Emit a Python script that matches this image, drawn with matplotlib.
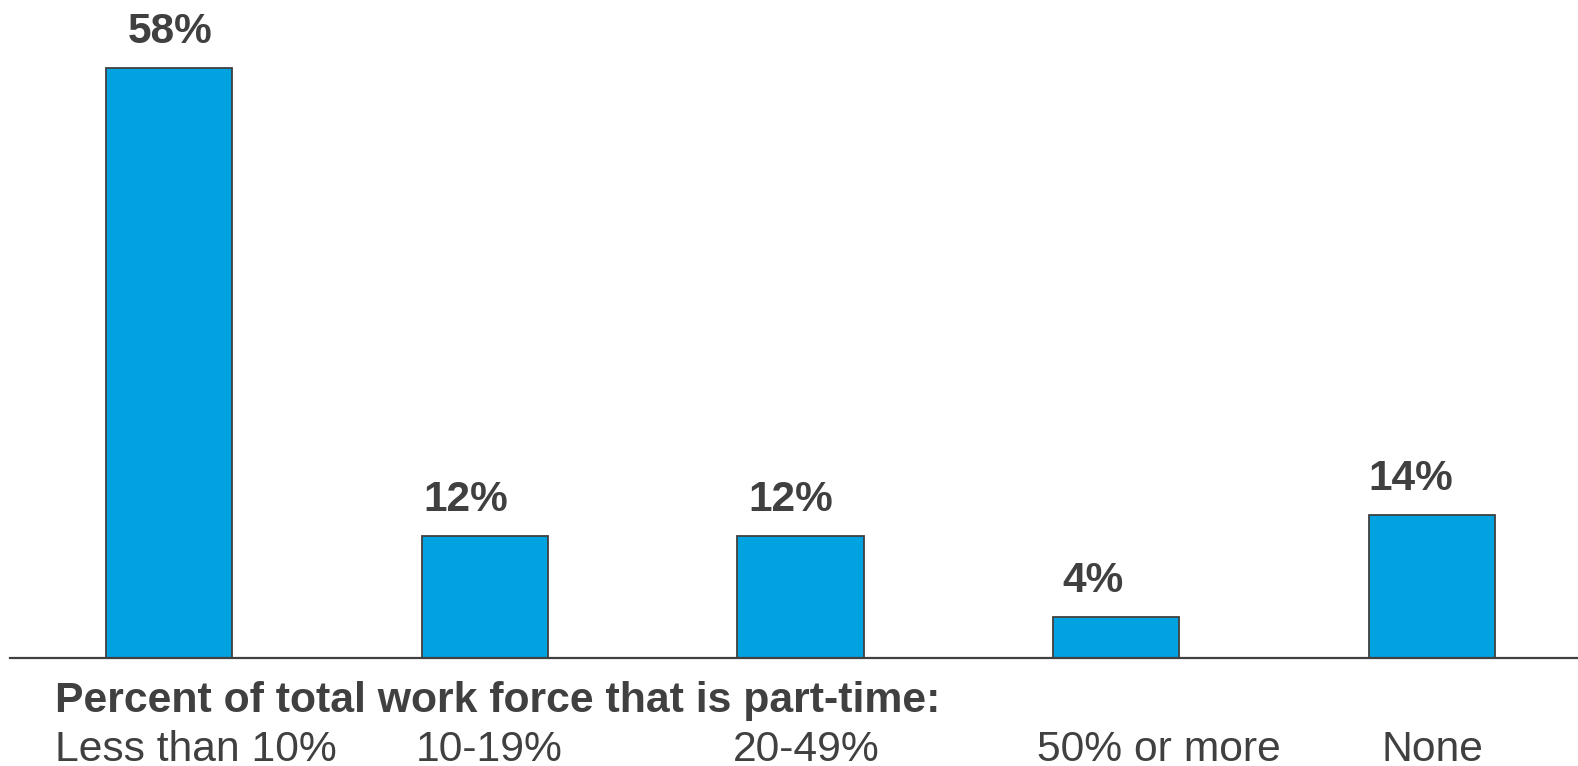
import numpy as np
import matplotlib
matplotlib.use('Agg')
import matplotlib.pyplot as plt

plt.rcParams['font.family'] = ['Liberation Sans', 'DejaVu Sans']

# data
categories = ['Less than 10%', '10-19%', '20-49%', '50% or more', 'None']
values = [58, 12, 12, 4, 14]
value_labels = ['58%', '12%', '12%', '4%', '14%']
axis_title = 'Percent of total work force that is part-time:'

# small label shifts (points) to follow the original layout
value_dx = [1, -14, -7, -17, -15]
cat_dx = [19, 3, 4, 31, 0]

text_color = '#404040'
bar_color = '#00A2E0'

W, H = 1578, 766
fig = plt.figure(figsize=(W / 100, H / 100), dpi=100)
ax = fig.add_axes([10 / W, (H - 658) / H, (W - 10) / W, (658 - 6.5) / H])

x = np.arange(len(categories))
ax.bar(x, values, width=0.40, color=bar_color, edgecolor=text_color, linewidth=1.3)

ax.set_xlim(-0.5036, 4.4625)
ax.set_ylim(0, 64)

for s in ['top', 'right', 'left']:
    ax.spines[s].set_visible(False)
ax.spines['bottom'].set_color(text_color)
ax.spines['bottom'].set_linewidth(1.6)
ax.set_xticks([])
ax.set_yticks([])

# value labels above bars
for i, (v, lab) in enumerate(zip(values, value_labels)):
    ax.annotate(lab, xy=(i, v), xytext=(value_dx[i], 18), textcoords='offset points',
                ha='center', va='baseline', fontsize=30.5, fontweight='bold',
                color=text_color, annotation_clip=False)

# category labels below axis
for i, c in enumerate(categories):
    ax.annotate(c, xy=(i, 0), xytext=(cat_dx[i], -74), textcoords='offset points',
                ha='center', va='baseline', fontsize=30.7, color=text_color,
                annotation_clip=False)

fig.text(55.4 / W, 1 - 712 / H, axis_title, ha='left', va='baseline',
         fontsize=30.8, fontweight='bold', color=text_color)

fig.savefig('out.png', dpi=100)
